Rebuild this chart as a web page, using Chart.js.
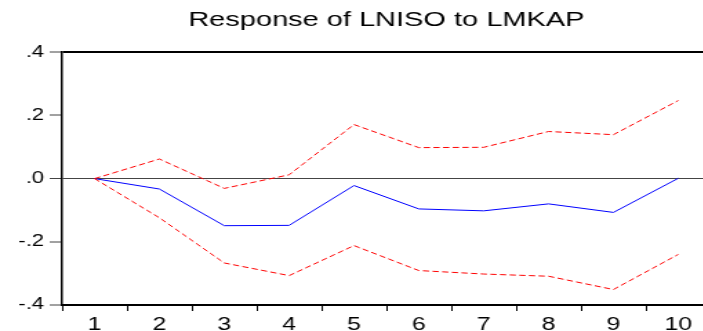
<!DOCTYPE html>
<html>
<head>
<meta charset="utf-8">
<title>Response of LNISO to LMKAP</title>
<script src="https://cdn.jsdelivr.net/npm/chart.js@4/dist/chart.umd.min.js"></script>
<style>
  html, body { margin: 0; padding: 0; background: #fff; overflow: hidden; }
  /* the EViews export is stretched sideways, so the whole chart is too */
  #wrap { position: absolute; left: 0; top: 0; transform: scaleX(1.38); transform-origin: 0 0; }
</style>
</head>
<body>
<div id="wrap"><canvas id="irf" width="530" height="331"></canvas></div>
<script>
'use strict';

// periods after the shock
const periods = ['1', '2', '3', '4', '5', '6', '7', '8', '9', '10'];

// impulse response and +/- 2 S.E. bands
const response   = [0, -0.033, -0.149, -0.148, -0.022, -0.096, -0.102, -0.080, -0.107, 0.001];
const upperBand  = [0, 0.062, -0.031, 0.012, 0.171, 0.098, 0.099, 0.149, 0.139, 0.247];
const lowerBand  = [0, -0.124, -0.267, -0.307, -0.212, -0.291, -0.302, -0.309, -0.351, -0.240];

// y axis ticks as EViews prints them
const yTickValues = [-0.4, -0.2, 0, 0.2, 0.4];
const yTickLabels = ['-.4', '-.2', '.0', '.2', '.4'];

const FONT = "'Liberation Sans', Arial, sans-serif";

const gridColor = (v) => {
  if (Math.abs(v - 0.4) < 1e-6) return '#000';
  if (Math.abs(v) < 1e-6) return '#444';
  return 'rgba(0,0,0,0)';
};
const gridWidth = (v) => {
  if (Math.abs(v - 0.4) < 1e-6) return 2;
  if (Math.abs(v) < 1e-6) return 1;
  return 0;
};

const bandStyle = {
  borderColor: '#ff0000',
  borderWidth: 1,
  borderDash: [4.5, 2.5],
  pointRadius: 0,
  tension: 0,
  fill: false,
};

new Chart(document.getElementById('irf').getContext('2d'), {
  type: 'line',
  data: {
    labels: periods,
    datasets: [
      { label: 'Upper', data: upperBand, ...bandStyle },
      { label: 'Lower', data: lowerBand, ...bandStyle },
      {
        label: 'Response',
        data: response,
        borderColor: '#0000ff',
        borderWidth: 1,
        pointRadius: 0,
        tension: 0,
        fill: false,
      },
    ],
  },
  options: {
    responsive: false,
    animation: false,
    events: [],
    layout: { padding: { left: 0, right: 15, top: 0, bottom: 0 } },
    plugins: {
      legend: { display: false },
      tooltip: { enabled: false },
      title: {
        display: true,
        fullSize: false,
        text: 'Response of LNISO to LMKAP',
        color: '#000',
        font: { family: FONT, size: 21, weight: 'normal' },
        padding: { top: 8, bottom: 19 },
      },
    },
    scales: {
      x: {
        type: 'category',
        offset: true,
        grid: {
          offset: true,
          drawOnChartArea: false,
          drawTicks: true,
          tickLength: 6,
          tickColor: '#000',
          tickWidth: 1,
        },
        border: { display: true, color: '#000', width: 2 },
        ticks: {
          color: '#000',
          padding: 3,
          maxRotation: 0,
          font: { family: FONT, size: 18 },
        },
        afterFit: (scale) => { scale.height = 26; },
      },
      y: {
        min: -0.4,
        max: 0.4,
        afterBuildTicks: (scale) => {
          scale.ticks = yTickValues.map(v => ({ value: v }));
        },
        grid: {
          color: (ctx) => gridColor(ctx.tick ? ctx.tick.value : NaN),
          lineWidth: (ctx) => gridWidth(ctx.tick ? ctx.tick.value : NaN),
          drawTicks: true,
          tickLength: 9,
          tickColor: '#444',
          tickWidth: 1,
        },
        border: { display: true, color: '#000', width: 1.5 },
        ticks: {
          color: '#000',
          padding: 4,
          font: { family: FONT, size: 16 },
          callback: (v, i) => yTickLabels[i],
        },
        afterFit: (scale) => { scale.width = 45; },
      },
    },
  },
});
</script>
</body>
</html>
